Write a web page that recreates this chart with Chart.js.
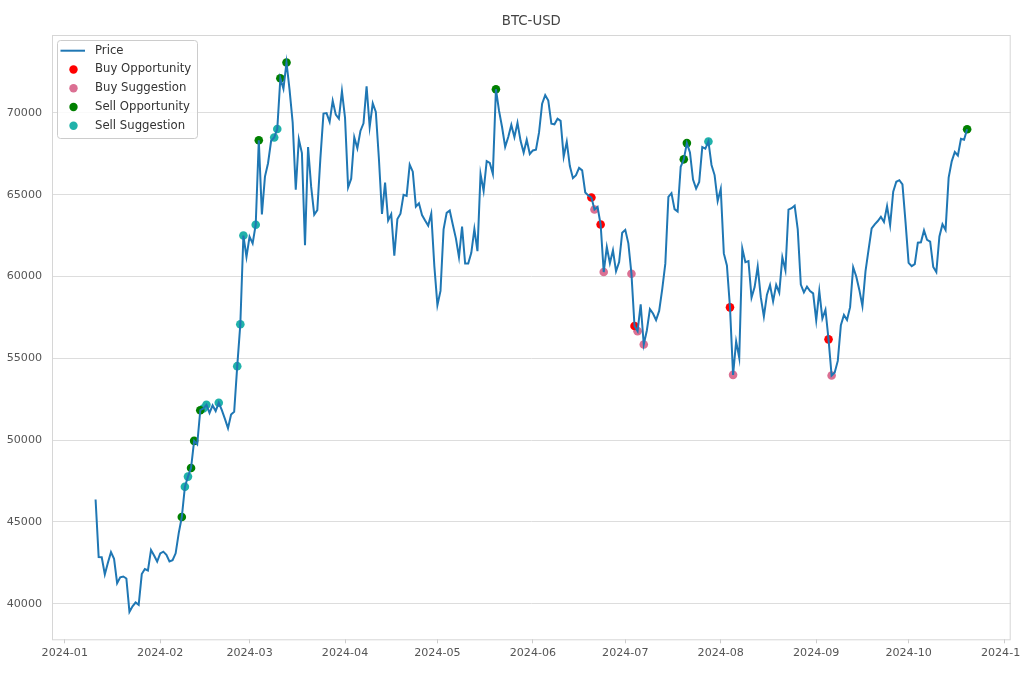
<!DOCTYPE html>
<html lang="en">
<head>
    <meta charset="UTF-8">
    <title>BTC-USD</title>
    <script src="https://cdn.jsdelivr.net/npm/chart.js"></script>
    <style>
        body {
            margin: 0;
            background: white;
        }

        .chart-container {
            width: 1020px;
            height: 680px;
        }
    </style>
</head>
<body>

    <div class="chart-container"><canvas id="priceChart"></canvas></div>

    <script>
        // daily closes, one per day starting at startDate
        const startDate = "2024-01-11";
        const prices = [
            46369, 42853, 42842, 41796, 42512, 43155, 42743, 41262, 41618, 41666, 41546, 39507, 39846, 40077, 39934, 41817, 42120, 42036, 43288, 42953, 42583,
            43076, 43186, 42992, 42584, 42659, 43085, 44318, 45302, 47147, 47771, 48294, 49958, 49742, 51827, 51939, 52160, 51663, 52123, 51779, 52285, 51839, 51305, 50732, 51571, 51733, 54522, 57085, 62505, 61198,
            62441, 62030, 63167, 68330, 63801, 66107, 66925, 68300, 68499, 69020, 72124, 71481, 73084, 71397, 69404, 65315, 68391, 67549, 61913, 67914, 65491, 63779, 64062, 67234, 69959, 69988, 69455, 70745, 69893, 69645, 71334,
            69702, 65447, 65981, 68509, 67838, 68896, 69363, 71631, 69139, 70588, 70061, 67196, 63821, 65739, 63426, 63812, 61277, 63513, 63844, 64994, 64927, 66838, 66407, 64277, 64482, 63755, 63419, 63113, 63841, 60637,
            58254, 59123, 62890, 63891, 64031, 63162, 62335, 61188, 63050, 60793, 60794, 61448, 62901, 61553, 66267, 65232, 67052, 66941, 66278, 71448, 70137, 69122, 67930, 68526, 69266, 68518, 69395, 68296, 67578, 68365, 67491,
            67707, 67752, 68805, 70568, 71083, 70757, 69343, 69306, 69648, 69512, 67332, 68241, 66756, 66011, 66191, 66639, 66490, 65141, 64960, 64829, 64096, 64253, 63181, 60277, 61805, 60811, 61605, 60320, 60887, 62678,
            62852, 62029, 60174, 56978, 56662, 58304, 55849, 56705, 58009, 57743, 57345, 57899, 59232, 60788, 64870, 65097, 64119, 63974, 66709, 67164, 68155, 67585, 65928, 65372, 65777, 67912, 67813, 68256, 66820, 66201, 64619,
            65358, 61415, 60680, 58117, 53991, 56034, 55027, 61710, 60880, 60946, 58719, 59355, 60610, 58737, 57560, 58894, 59479, 58484, 59493, 59013, 61175, 60382, 64094, 64179, 64334, 62881, 59504, 59028, 59388, 59119, 58970,
            57325, 59112, 57431, 57972, 56160, 53949, 54140, 54842, 57020, 57649, 57343, 58127, 60571, 60005, 59183, 58193, 60309, 61650, 62940, 63193, 63395, 63649, 63330, 64302, 63143, 65181, 65791, 65888, 65635, 63330,
            60837, 60633, 60759, 62067, 62090, 62819, 62237, 62132, 60582, 60275, 62445, 63193, 62851, 66046, 67041, 67613, 67400, 68419, 68363, 69002
        ];

        const buyOpportunityDates = ["2024-06-20", "2024-06-23", "2024-07-04", "2024-08-04", "2024-09-05"];
        const buySuggestionDates = ["2024-06-21", "2024-06-24", "2024-07-03", "2024-07-05", "2024-07-07", "2024-08-05", "2024-09-06"];
        const sellOpportunityDates = ["2024-02-08", "2024-02-11", "2024-02-12", "2024-02-14", "2024-03-04", "2024-03-11", "2024-03-13", "2024-05-20", "2024-07-20", "2024-07-21", "2024-10-20"];
        const sellSuggestionDates = ["2024-02-09", "2024-02-10", "2024-02-15", "2024-02-16", "2024-02-20", "2024-02-26", "2024-02-27", "2024-02-28", "2024-03-03", "2024-03-09", "2024-03-10", "2024-07-28"];

        const xTickLabels = ["2024-01", "2024-02", "2024-03", "2024-04", "2024-05", "2024-06", "2024-07", "2024-08", "2024-09", "2024-10", "2024-11"];
        const yTicks = [40000, 45000, 50000, 55000, 60000, 65000, 70000];
        const chartTitle = "BTC-USD";

        const FONT = "'DejaVu Sans', sans-serif";

        // days since 2024-01-01
        function dayNum(str) {
            const [y, m, d] = str.split("-").map(Number);
            return (Date.UTC(y, m - 1, d) - Date.UTC(2024, 0, 1)) / 86400000;
        }

        const firstDay = dayNum(startDate);
        const pricePoints = prices.map((p, i) => ({ x: firstDay + i, y: p }));

        function signalPoints(dates) {
            return dates.map(d => {
                const x = dayNum(d);
                return { x, y: prices[x - firstDay] };
            });
        }

        // matplotlib style 5% margins
        const lastDay = firstDay + prices.length - 1;
        const xPad = (lastDay - firstDay) * 0.05;
        const yLo = Math.min(...prices), yHi = Math.max(...prices);
        const yPad = (yHi - yLo) * 0.05;

        const series = [
            { label: "Buy Opportunity", color: "#ff0000", dates: buyOpportunityDates },
            { label: "Buy Suggestion", color: "#db7093", dates: buySuggestionDates },
            { label: "Sell Opportunity", color: "#008000", dates: sellOpportunityDates },
            { label: "Sell Suggestion", color: "#20b2aa", dates: sellSuggestionDates }
        ];

        // frame around the plot area + title centred over it
        const framePlugin = {
            id: "frame",
            beforeDatasetsDraw(chart) {
                const { ctx, chartArea: a } = chart;
                ctx.save();
                ctx.strokeStyle = "#d6d6d6";
                ctx.lineWidth = 1;
                ctx.strokeRect(a.left + 0.5, a.top + 0.5, a.right - a.left - 1, a.bottom - a.top);

                ctx.font = "13.3px " + FONT;
                ctx.fillStyle = "#444";
                ctx.textAlign = "center";
                ctx.textBaseline = "middle";
                ctx.fillText(chartTitle, (a.left + a.right) / 2, 22);
                ctx.restore();
            }
        };

        const legendPlugin = {
            id: "boxLegend",
            afterDraw(chart) {
                const ctx = chart.ctx;
                const bx = 57, by = 40, bw = 140, bh = 98;
                ctx.save();
                ctx.beginPath();
                ctx.roundRect(bx + 0.5, by + 0.5, bw, bh, 3);
                ctx.fillStyle = "rgba(255,255,255,0.85)";
                ctx.fill();
                ctx.strokeStyle = "#cccccc";
                ctx.lineWidth = 1;
                ctx.stroke();

                ctx.font = "11.7px " + FONT;
                ctx.textBaseline = "middle";
                ctx.fillStyle = "#333";
                const rowY = i => 50.7 + i * 18.75;

                ctx.strokeStyle = "#1f77b4";
                ctx.lineWidth = 2;
                ctx.beginPath();
                ctx.moveTo(60.5, rowY(0));
                ctx.lineTo(85, rowY(0));
                ctx.stroke();
                ctx.fillText("Price", 95, rowY(0));

                series.forEach((s, i) => {
                    ctx.beginPath();
                    ctx.arc(73.5, rowY(i + 1), 4.2, 0, Math.PI * 2);
                    ctx.fillStyle = s.color;
                    ctx.fill();
                    ctx.fillStyle = "#333";
                    ctx.fillText(s.label, 95, rowY(i + 1));
                });
                ctx.restore();
            }
        };

        new Chart(document.getElementById("priceChart"), {
            type: "line",
            data: {
                datasets: [
                    {
                        label: "Price",
                        data: pricePoints,
                        borderColor: "#1f77b4",
                        borderWidth: 2,
                        pointRadius: 0,
                        tension: 0,
                        fill: false
                    },
                    ...series.map(s => ({
                        label: s.label,
                        data: signalPoints(s.dates),
                        showLine: false,
                        pointRadius: 4.3,
                        pointBorderWidth: 0,
                        pointBackgroundColor: s.color,
                        borderColor: s.color,
                        backgroundColor: s.color
                    }))
                ]
            },
            options: {
                responsive: true,
                maintainAspectRatio: false,
                animation: false,
                events: [],
                layout: { padding: { left: 0, right: 9.3, top: 35, bottom: 0 } },
                plugins: {
                    legend: { display: false },
                    tooltip: { enabled: false },
                    title: { display: false }
                },
                scales: {
                    x: {
                        type: "linear",
                        min: firstDay - xPad,
                        max: lastDay + xPad,
                        grid: { drawOnChartArea: false, drawTicks: true, tickLength: 4, color: "#cccccc" },
                        border: { display: false },
                        ticks: {
                            autoSkip: false,
                            maxRotation: 0,
                            padding: 3,
                            color: "#555",
                            font: { family: FONT, size: 11.1 },
                            callback: (v, i) => xTickLabels[i]
                        },
                        afterBuildTicks: s => { s.ticks = xTickLabels.map(t => ({ value: dayNum(t + "-01") })); },
                        afterFit: s => { s.height = 40.7; s.paddingLeft = 0; s.paddingRight = 0; }
                    },
                    y: {
                        min: yLo - yPad,
                        max: yHi + yPad,
                        grid: { color: "#dddddd", drawTicks: false },
                        border: { display: false },
                        ticks: {
                            padding: 10,
                            color: "#555",
                            font: { family: FONT, size: 11.1 },
                            callback: v => String(v)
                        },
                        afterBuildTicks: s => { s.ticks = yTicks.map(v => ({ value: v })); },
                        afterFit: s => { s.width = 52; s.paddingTop = 0; s.paddingBottom = 0; }
                    }
                }
            },
            plugins: [framePlugin, legendPlugin]
        });
    </script>

</body>
</html>
